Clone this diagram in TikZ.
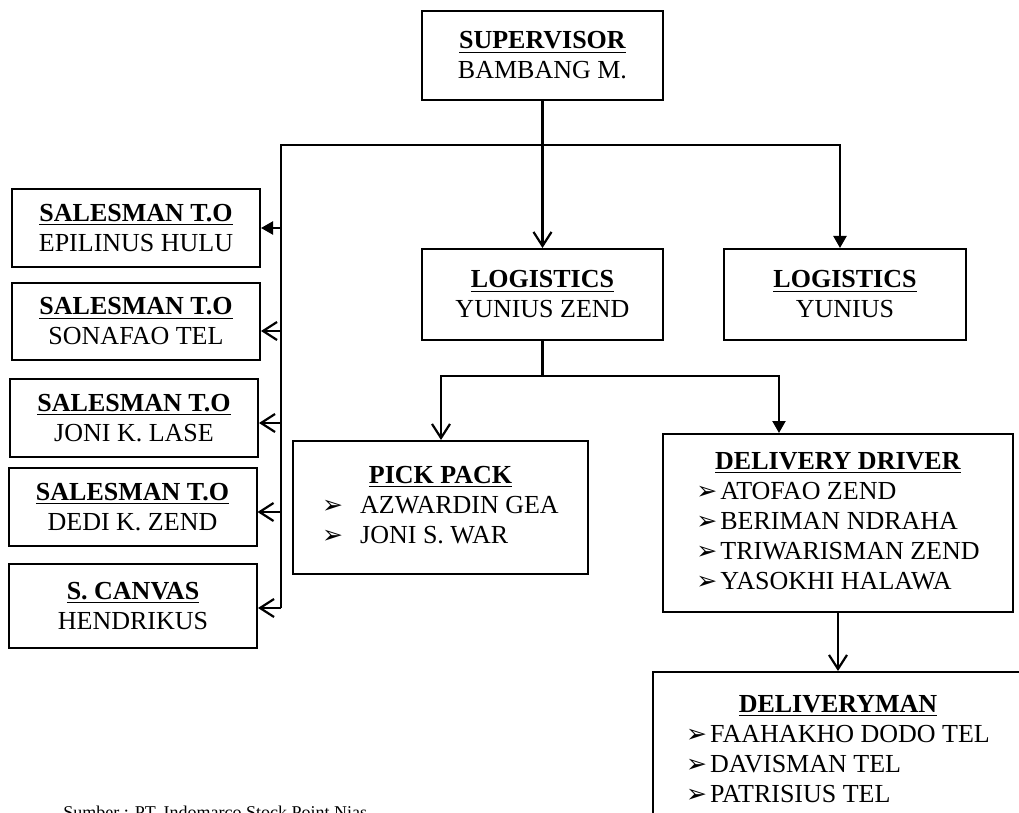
\documentclass[tikz,border=0pt]{standalone}
\usepackage{fontspec}
\setmainfont{Liberation Serif}
\newfontfamily\dingfont{DejaVu Sans}
\usetikzlibrary{arrows.meta}
\newcommand{\blt}{{\dingfont\fontsize{12.5}{15}\selectfont ➢}}

\begin{document}
\begin{tikzpicture}[x=0.5pt,y=-0.5pt,
    font=\fontsize{13}{15}\selectfont,
    box/.style={draw,line width=1pt,minimum width=124pt,minimum height=39pt,align=center,inner sep=0pt},
    vee/.style={line width=1.1pt,-{Straight Barb[length=7pt,width=9pt]}},
    tri/.style={line width=1.1pt,-{Triangle[length=6pt,width=6.5pt]}}]
    \useasboundingbox (0,0) rectangle (1019,813);

    % top
    \node[box,minimum width=120.5pt,minimum height=44.5pt] (sup) at (542.5,55.5) {\underline{\textbf{SUPERVISOR}}\\BAMBANG M.};
    \node[box,minimum width=120.5pt,minimum height=45.5pt] (logzend) at (542.5,294.5) {\underline{\textbf{LOGISTICS}}\\YUNIUS ZEND};
    \node[box,minimum width=121pt,minimum height=45.5pt] (logyun) at (845,294.5) {\underline{\textbf{LOGISTICS}}\\YUNIUS};

    % sales
    \node[box] (sal1) at (136,228) {\underline{\textbf{SALESMAN T.O}}\\EPILINUS HULU};
    \node[box,minimum height=38.5pt] (sal2) at (136,321.5) {\underline{\textbf{SALESMAN T.O}}\\SONAFAO TEL};
    \node[box] (sal3) at (134,418) {\underline{\textbf{SALESMAN T.O}}\\JONI K. LASE};
    \node[box] (sal4) at (132.5,507) {\underline{\textbf{SALESMAN T.O}}\\DEDI K. ZEND};
    \node[box,minimum height=42pt] (canvas) at (133,606) {\underline{\textbf{S. CANVAS}}\\HENDRIKUS};

    % logistics team
    \node[box,minimum width=147.5pt,minimum height=66.5pt] (pick) at (440.5,507.5) {%
        \begin{tabular}{@{}l@{}}
            \multicolumn{1}{@{}c@{}}{\underline{\textbf{PICK PACK}}}\\
            \makebox[19pt][l]{\blt}AZWARDIN GEA\\
            \makebox[19pt][l]{\blt}JONI S. WAR
        \end{tabular}};
    \node[box,minimum width=175pt,minimum height=89pt] (driver) at (838,523) {%
        \begin{tabular}{@{}l@{}}
            \multicolumn{1}{@{}c@{}}{\underline{\textbf{DELIVERY DRIVER}}}\\
            \makebox[12pt][l]{\blt}ATOFAO ZEND\\
            \makebox[12pt][l]{\blt}BERIMAN NDRAHA\\
            \makebox[12pt][l]{\blt}TRIWARISMAN ZEND\\
            \makebox[12pt][l]{\blt}YASOKHI HALAWA
        \end{tabular}};
    \node[box,minimum width=185pt,minimum height=79pt] (dman) at (838,751) {%
        \begin{tabular}{@{}l@{}}
            \multicolumn{1}{@{}c@{}}{\underline{\textbf{DELIVERYMAN}}}\\
            \makebox[12pt][l]{\blt}FAAHAKHO DODO TEL\\
            \makebox[12pt][l]{\blt}DAVISMAN TEL\\
            \makebox[12pt][l]{\blt}PATRISIUS TEL
        \end{tabular}};

    \node[anchor=north west,inner sep=0pt,font=\fontsize{9}{11}\selectfont] (src) at (63,806) {Sumber : PT. Indomarco Stock Point Nias};

    % lines
    \coordinate (barL) at (281,145);
    \coordinate (barR) at (840,145);
    \coordinate (barB) at (281,608);
    \coordinate (jL) at (441,376);
    \coordinate (jR) at (779,376);

    \draw[vee] (sup) -- (logzend);
    \draw[tri] (barB) -- (barL) -- (barR) -- (logyun.north -| barR);
    \draw[tri] (sal1.east -| barL) -- (sal1.east);
    \foreach \n/\dy in {sal2/-4.75pt,sal3/-2.5pt,sal4/-2.5pt,canvas/-1pt}
        \draw[vee] ([yshift=\dy]\n.east -| barL) -- ([yshift=\dy]\n.east);

    \draw[vee] (logzend.south) |- (jL) -- (pick.north -| jL);
    \draw[tri] (logzend.south |- jR) -- (jR) -- (driver.north -| jR);
    \draw[vee] (driver) -- (dman);
\end{tikzpicture}
\end{document}
